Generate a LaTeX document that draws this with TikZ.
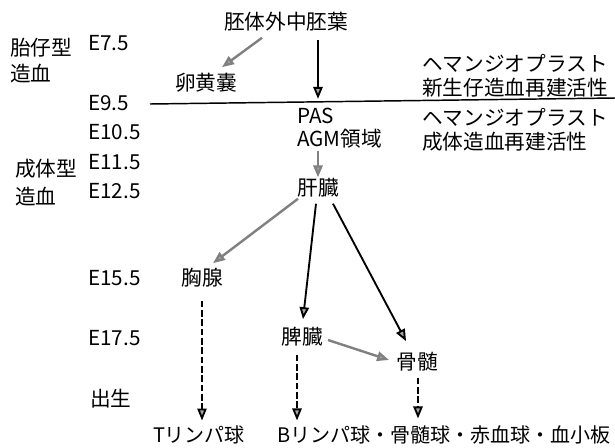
\documentclass[tikz,border=0pt]{standalone}
\usepackage{fontspec}
\setmainfont{Noto Sans CJK JP}
\usetikzlibrary{arrows.meta,calc}
\begin{document}
\begin{tikzpicture}[x=0.75pt,y=-0.75pt,
  lbl/.style={inner sep=0pt,font=\fontsize{15.5}{18}\selectfont},
  tip/.style={-{Triangle[length=9pt,width=7pt,fill=gray!70]}},
  blk/.style={tip,line width=1.4pt,black},
  gry/.style={tip,line width=1.8pt,gray},
  dsh/.style={tip,line width=1.4pt,black,dash pattern=on 5pt off 2pt}]
\useasboundingbox[fill=white] (0,0) rectangle (615,447);
% left labels
\node[lbl,anchor=west] (fe1) at (10,48) {胎仔型};
\node[lbl,anchor=west] (fe2) at (10,74) {造血};
\node[lbl,anchor=west] (ad1) at (15,169) {成体型};
\node[lbl,anchor=west] (ad2) at (15,197) {造血};
\node[lbl,anchor=west] (e75) at (88,43) {E7.5};
\node[lbl,anchor=west] (e95) at (88,103) {E9.5};
\node[lbl,anchor=west] (e105) at (88,132) {E10.5};
\node[lbl,anchor=west] (e115) at (88,162) {E11.5};
\node[lbl,anchor=west] (e125) at (88,191) {E12.5};
\node[lbl,anchor=west] (e155) at (88,278) {E15.5};
\node[lbl,anchor=west] (e175) at (88,338) {E17.5};
\node[lbl,anchor=west] (birth) at (90,399) {出生};
% right labels
\node[lbl,anchor=west] (h1) at (422,63) {ヘマンジオプラスト};
\node[lbl,anchor=west] (n1) at (422,88) {新生仔造血再建活性};
\node[lbl,anchor=west] (h2) at (422,117) {ヘマンジオプラスト};
\node[lbl,anchor=west] (n2) at (422,142) {成体造血再建活性};
% main nodes
\node[lbl] (meso) at (286,22) {胚体外中胚葉};
\node[lbl] (yolk) at (206,83) {卵黄嚢};
\node[lbl,anchor=west] (pas) at (297,116) {PAS};
\node[lbl,anchor=west] (agm) at (297,139) {AGM領域};
\node[lbl] (liver) at (318,188) {肝臓};
\node[lbl] (thymus) at (202,278) {胸腺};
\node[lbl] (spleen) at (302,337) {脾臓};
\node[lbl] (bm) at (417,362) {骨髄};
\node[lbl,font=\fontsize{15}{18}\selectfont] (tcell) at (199,435) {Tリンパ球};
\node[lbl,font=\fontsize{15}{18}\selectfont,anchor=east] (rest) at (611,435) {Bリンパ球・骨髄球・赤血球・血小板};
% divider line
\coordinate (l1) at (150,104);
\coordinate (l2) at (615,98);
\draw[line width=1.1pt] (l1) -- (l2);
% arrows
\draw[gry] ($(meso.south)+(-24,6)$) -- ($(yolk.north)+(16,-6)$);
\draw[blk] ($(meso.south -| liver)+(0,8)$) -- ($(pas.north -| liver)+(0,-9)$);
\draw[gry] ($(agm.south -| liver)+(0,2)$) -- ($(liver.north)+(0,-1)$);
\draw[gry] ($(liver.south west)+(1,1)$) -- ($(thymus.north)+(11,-5)$);
\draw[blk] ($(liver.south)+(-2,6)$) -- ($(spleen.north)+(1,-8)$);
\draw[blk] ($(liver.south)+(15,6)$) -- ($(bm.north west)+(10,-11)$);
\draw[gry] ($(spleen.east)+(5,3)$) -- ($(bm.west)+(-7,-2)$);
\draw[dsh] ($(thymus.south)+(0,13)$) -- ($(thymus.south |- tcell.north)+(0,-5)$);
\draw[dsh] ($(spleen.south)+(-5,8)$) -- ($(spleen.south |- rest.north)+(-5,-5)$);
\draw[dsh] ($(bm.south)+(1,6)$) -- ($(bm.south |- rest.north)+(1,-7)$);
\end{tikzpicture}
\end{document}
